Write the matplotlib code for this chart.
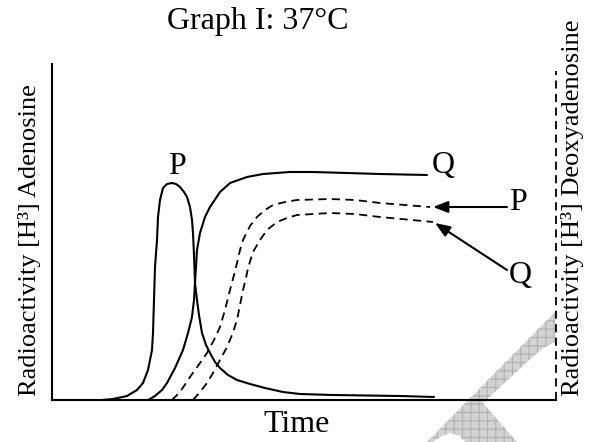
import matplotlib
matplotlib.use("Agg")
import matplotlib.pyplot as plt
from matplotlib.patches import Polygon

plt.rcParams['font.family'] = ['Liberation Serif', 'DejaVu Serif']
plt.rcParams['hatch.linewidth'] = 0.8

# curves (time, radioactivity), arbitrary units
p_ad_t = [50, 61, 75, 85, 91, 96, 100, 101, 102, 103, 105, 106, 108, 111, 115, 120,
          124, 128, 132, 135, 138, 140, 141, 142, 143, 145, 147, 150, 154, 158, 163,
          168, 176, 185, 198, 213, 231, 248, 281, 348, 382]
p_ad_r = [0, 1, 4, 10, 17, 30, 50, 67, 100, 133, 160, 183, 200, 212, 216, 217,
          216, 213, 208, 203, 193, 180, 167, 145, 117, 100, 85, 67, 55, 47, 38,
          32, 25, 20, 16, 12, 8, 6, 5, 4, 3]

q_ad_t = [96, 103, 110, 115, 123, 131, 136, 140, 142, 143, 145, 148, 153, 158,
          168, 178, 195, 211, 238, 261, 295, 328, 375]
q_ad_r = [0, 4, 10, 17, 32, 50, 67, 83, 100, 117, 150, 167, 183, 193,
          208, 217, 223, 226, 228, 228, 227, 226, 225]

p_dx_t = [120, 128, 138, 148, 155, 162, 168, 173, 178, 182, 185, 188, 191, 195,
          198, 205, 213, 221, 233, 245, 278, 303, 328, 378]
p_dx_r = [0, 8, 23, 37, 47, 60, 73, 90, 110, 125, 137, 150, 160, 168,
          174, 183, 190, 195, 198, 200, 201, 200, 197, 193]

q_dx_t = [141, 148, 155, 161, 168, 175, 180, 185, 188, 191, 194, 196, 201, 208,
          215, 225, 235, 245, 278, 303, 328, 381]
q_dx_r = [0, 8, 17, 27, 40, 53, 65, 80, 95, 110, 122, 132, 148, 160,
          170, 178, 182, 185, 187, 186, 183, 178]

fig = plt.figure(figsize=(5.92, 4.42), dpi=100)

# faint watermark behind everything
bg = fig.add_axes([0, 0, 1, 1], zorder=0)
bg.set_xlim(0, 592)
bg.set_ylim(442, 0)
bg.axis('off')
wm = [(427, 442), (555, 312), (555, 342), (543, 348), (527, 362), (483, 403),
      (517, 442), (465, 442), (460, 436), (450, 433), (440, 437), (433, 442)]
bg.add_patch(Polygon(wm, closed=True, facecolor='#d3d3d3', edgecolor='#b0b0b0',
                     hatch='++', linewidth=0))

ax = fig.add_axes([52 / 592, 42 / 442, 504 / 592, 336 / 442], zorder=1)
ax.patch.set_alpha(0)
ax.set_xlim(0, 504)
ax.set_ylim(0, 336)
ax.set_xticks([])
ax.set_yticks([])
for s in ['top', 'right']:
    ax.spines[s].set_visible(False)
for s in ['left', 'bottom']:
    ax.spines[s].set_linewidth(1.5)

solid = dict(color='black', lw=1.5, solid_joinstyle='round', solid_capstyle='round')
dashed = dict(color='black', lw=1.3, ls=(0, (4.5, 3)), dash_joinstyle='round')
ax.plot(p_ad_t, p_ad_r, clip_on=False, **solid)
ax.plot(q_ad_t, q_ad_r, clip_on=False, **solid)
ax.plot(p_dx_t, p_dx_r, **dashed)
ax.plot(q_dx_t, q_dx_r, **dashed)

# dashed right axis for deoxyadenosine
ax.plot([504, 504], [0, 329], clip_on=False, **dashed)

# curve labels
fs = 23
ax.text(125, 233, 'P', fontsize=fs, ha='center', va='center')
ax.text(391, 235, 'Q', fontsize=fs, ha='center', va='center')
ax.text(466, 197, 'P', fontsize=fs, ha='center', va='center')
ax.text(468, 125, 'Q', fontsize=fs, ha='center', va='center')

arrow = dict(arrowstyle='-|>,head_length=0.9,head_width=0.35', color='black', lw=1.5,
             shrinkA=0, shrinkB=0)
ax.annotate('', xy=(381, 193), xytext=(455, 193), arrowprops=arrow)
ax.annotate('', xy=(383, 177), xytext=(455, 130), arrowprops=arrow)

fig.text(258 / 592, 1 - 22 / 442, 'Graph I: 37°C', fontsize=fs, ha='center', va='center')
fig.text(297 / 592, 1 - 425 / 442, 'Time', fontsize=fs, ha='center', va='center')
fig.text(30 / 592, 1 - 240 / 442, 'Radioactivity [H³] Adenosine', fontsize=19,
         rotation=90, ha='center', va='center')
fig.text(573 / 592, 1 - 208 / 442, 'Radioactivity [H³] Deoxyadenosine', fontsize=19,
         rotation=90, ha='center', va='center')

fig.savefig('out.png', dpi=100)
